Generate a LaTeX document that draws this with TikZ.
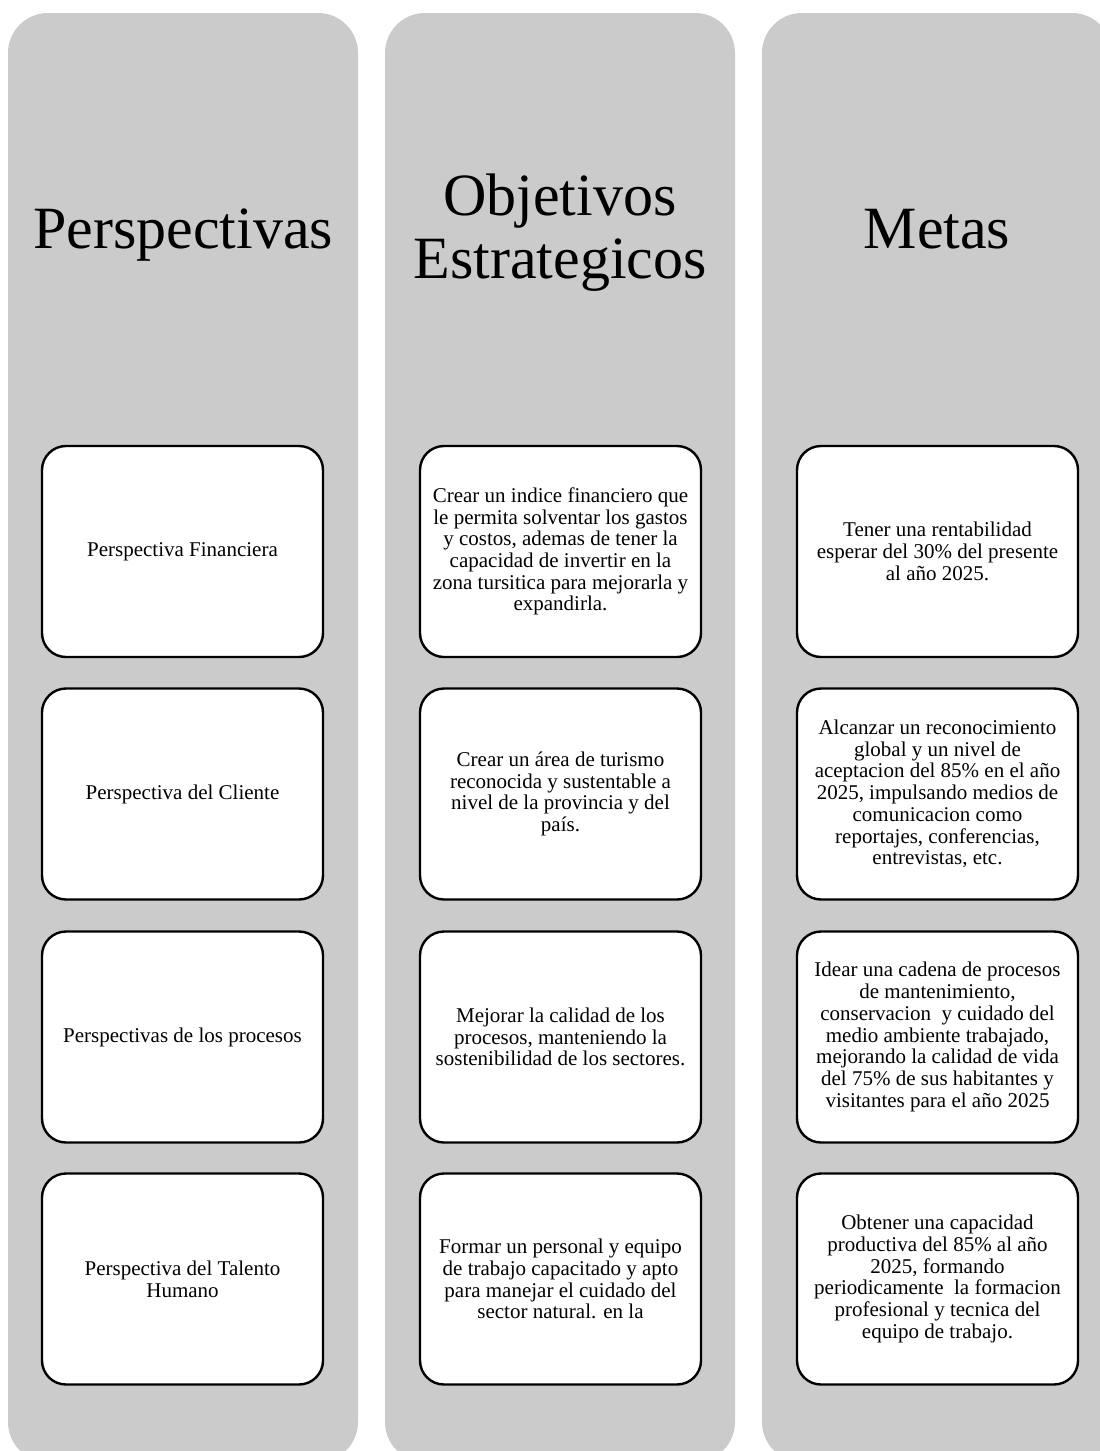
\documentclass[tikz,border=0pt]{standalone}
\usepackage{fontspec}
\setmainfont{Liberation Serif}
\begin{document}
\begin{tikzpicture}[x=1pt,y=-1pt,
  colbg/.style={fill=colgray,draw=none,rounded corners=40pt},
  header/.style={font=\fontsize{60}{63}\selectfont,align=center,inner sep=0pt},
  cardbox/.style={draw=black,line width=2.4pt,fill=white,rounded corners=24pt,
    minimum width=281pt,minimum height=211pt,align=center,inner sep=0pt,
    font=\fontsize{21}{21.7}\selectfont}]
\definecolor{colgray}{RGB}{203,203,203}
\useasboundingbox (0,0) rectangle (1100,1451);
\begin{scope}
\clip (0,0) rectangle (1100,1451);
\fill[colbg] (8,13) rectangle (358,1462);
\fill[colbg] (385,13) rectangle (735,1462);
\fill[colbg] (762,13) rectangle (1112,1462);
\end{scope}
% headers
\node[header,anchor=base] (h1) at (183,248) {Perspectivas};
\node[header,anchor=base] (h2) at (560,278) {Objetivos\\Estrategicos};
\node[header,anchor=base] (h3) at (937,248) {Metas};
% column 1
\node[cardbox] (p1) at (182.5,551.5) {Perspectiva Financiera};
\node[cardbox] (p2) at (182.5,794) {Perspectiva del Cliente};
\node[cardbox] (p3) at (182.5,1037) {Perspectivas de los procesos};
\node[cardbox] (p4) at (182.5,1279) {Perspectiva del Talento\\Humano};
% column 2
\node[cardbox] (o1) at (560.5,551.5) {Crear un indice financiero que\\le permita solventar los gastos\\y costos, ademas de tener la\\capacidad de invertir en la\\zona tursitica para mejorarla y\\expandirla.};
\node[cardbox] (o2) at (560.5,794) {Crear un área de turismo\\reconocida y sustentable a\\nivel de la provincia y del\\país.};
\node[cardbox] (o3) at (560.5,1037) {Mejorar la calidad de los\\procesos, manteniendo la\\sostenibilidad de los sectores.};
\node[cardbox] (o4) at (560.5,1279) {Formar un personal y equipo\\de trabajo capacitado y apto\\para manejar el cuidado del\\sector natural. en la};
% column 3
\node[cardbox] (m1) at (937.5,551.5) {Tener una rentabilidad\\esperar del 30\% del presente\\al año 2025.};
\node[cardbox] (m2) at (937.5,794) {Alcanzar un reconocimiento\\global y un nivel de\\aceptacion del 85\% en el año\\2025, impulsando medios de\\comunicacion como\\reportajes, conferencias,\\entrevistas, etc.};
\node[cardbox] (m3) at (937.5,1037) {Idear una cadena de procesos\\de mantenimiento,\\conservacion \ y cuidado del\\medio ambiente trabajado,\\mejorando la calidad de vida\\del 75\% de sus habitantes y\\visitantes para el año 2025};
\node[cardbox] (m4) at (937.5,1279) {Obtener una capacidad\\productiva del 85\% al año\\2025, formando\\periodicamente \ la formacion\\profesional y tecnica del\\equipo de trabajo.};
\end{tikzpicture}
\end{document}
